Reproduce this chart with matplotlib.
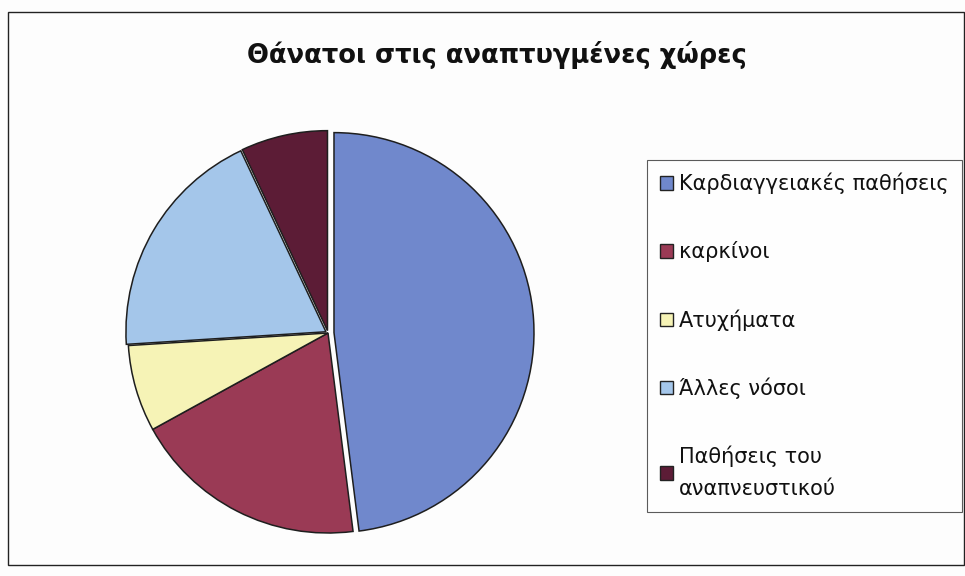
import matplotlib.pyplot as plt
from matplotlib.patches import Rectangle

# data
labels = ['Καρδιαγγειακές παθήσεις', 'καρκίνοι', 'Ατυχήματα', 'Άλλες νόσοι',
          'Παθήσεις του\nαναπνευστικού']
shares = [48, 19, 7, 19, 7]
colors = ['#7088cc', '#9a3a55', '#f6f3b6', '#a4c6ea', '#5c1c36']
explode = [0.03, 0.0, 0.0, 0.012, 0.012]

fig = plt.figure(figsize=(9.65, 5.76), dpi=100)
fig.patch.set_facecolor('#fdfdfd')

# pie axes: centre ~ (328, 333) px, radius ~ 200 px
ax = fig.add_axes([108 / 965, 23 / 576, 440 / 965, 440 / 576])
wedges, _ = ax.pie(shares, colors=colors, startangle=90, counterclock=False,
                   explode=explode, radius=1.0,
                   wedgeprops=dict(edgecolor='#1e1e1e', linewidth=1.1))
ax.set_xlim(-1.1, 1.1)
ax.set_ylim(-1.1, 1.1)
ax.set_aspect('equal')
ax.axis('off')

fig.text(497 / 965, 1 - 55 / 576, 'Θάνατοι στις αναπτυγμένες χώρες',
         ha='center', va='center', fontsize=18.5, fontweight='bold', color='#111111')

leg = fig.legend(wedges, labels, loc='upper left',
                 bbox_to_anchor=(647 / 965, 1 - 160 / 576),
                 fontsize=15, frameon=True, fancybox=False, edgecolor='#333333',
                 handlelength=0.62, handleheight=0.62, handletextpad=0.3,
                 labelspacing=2.25, borderpad=0.62, borderaxespad=0)
leg.get_frame().set_linewidth(0.8)
for t in leg.get_texts():
    t.set_linespacing(1.7)
    t.set_color('#111111')
for h in leg.legend_handles:
    h.set_edgecolor('#222222')
    h.set_linewidth(1.0)

# outer chart border
fig.patches.append(Rectangle((8 / 965, 1 - 565 / 576), 956 / 965, 553 / 576,
                             transform=fig.transFigure, fill=False,
                             edgecolor='#222222', linewidth=1.0))

fig.savefig('out.png', dpi=100, facecolor=fig.get_facecolor())
